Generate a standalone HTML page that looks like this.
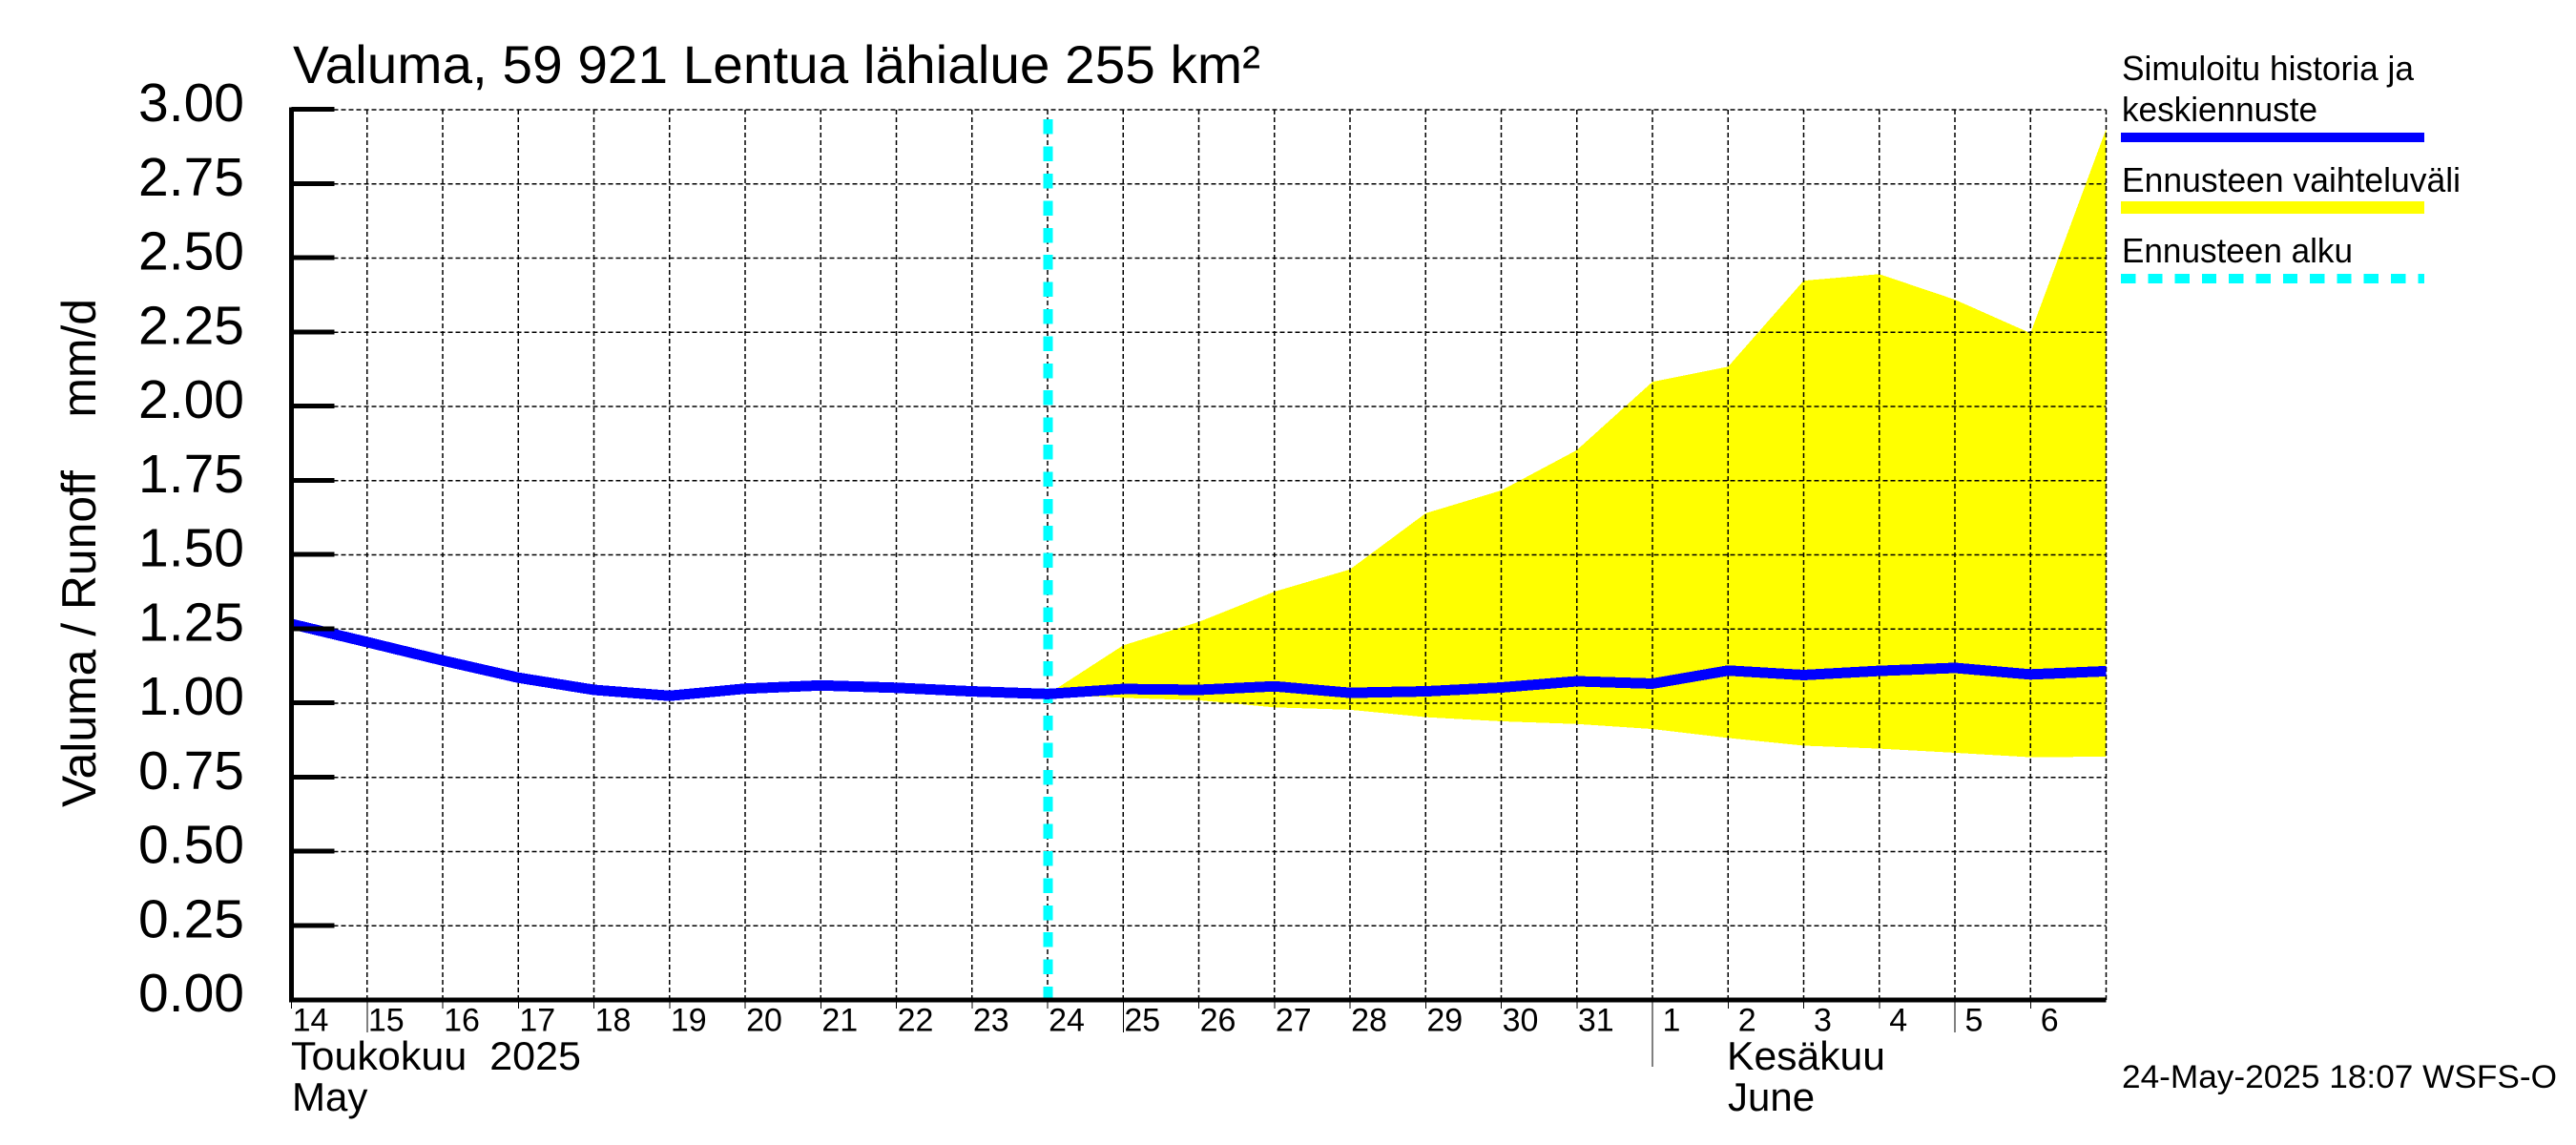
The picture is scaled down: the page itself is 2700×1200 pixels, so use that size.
<!DOCTYPE html>
<html lang="fi">
<head>
<meta charset="utf-8">
<title>Valuma, 59 921 Lentua lähialue 255 km²</title>
<style>
  html, body { margin: 0; padding: 0; background: #fff; }
  svg { display: block; }
  text { font-family: "Liberation Sans", sans-serif; fill: #000; white-space: pre; }
</style>
</head>
<body>
<svg id="chart" xmlns="http://www.w3.org/2000/svg" width="2700" height="1200" viewBox="0 0 2700 1200">
  <rect x="0" y="0" width="2700" height="1200" fill="#ffffff"/>
  <polygon id="band" fill="#ffff00" shape-rendering="crispEdges"/>
  <g id="grid"></g>
  <path id="startLine" fill="none" stroke="#00ffff" stroke-width="10" stroke-dasharray="15.5 12.9" shape-rendering="crispEdges"/>
  <polyline id="mean" fill="none" stroke="#0000ff" stroke-width="11" stroke-linejoin="round" shape-rendering="crispEdges"/>
  <g id="axes" shape-rendering="crispEdges"></g>
  <g id="labels"></g>

  <text x="307" y="87" font-size="56" textLength="1014" lengthAdjust="spacingAndGlyphs">Valuma, 59 921 Lentua lähialue 255 km²</text>
  <text transform="translate(100 846) rotate(-90)" x="0" y="0" font-size="50" textLength="533" lengthAdjust="spacingAndGlyphs">Valuma / Runoff    mm/d</text>

  <text x="305" y="1121" font-size="42" textLength="304" lengthAdjust="spacingAndGlyphs">Toukokuu  2025</text>
  <text x="306" y="1164" font-size="42">May</text>
  <text x="1810" y="1121" font-size="42" textLength="166" lengthAdjust="spacingAndGlyphs">Kesäkuu</text>
  <text x="1811" y="1164" font-size="42">June</text>

  <g>
    <text x="2224" y="84" font-size="36" textLength="306" lengthAdjust="spacingAndGlyphs">Simuloitu historia ja</text>
    <text x="2224" y="127" font-size="36" textLength="205" lengthAdjust="spacingAndGlyphs">keskiennuste</text>
    <rect x="2223" y="139" width="318" height="10" fill="#0000ff"/>
    <text x="2224" y="201" font-size="36" textLength="355" lengthAdjust="spacingAndGlyphs">Ennusteen vaihteluväli</text>
    <rect x="2223" y="211" width="318" height="13" fill="#ffff00"/>
    <text x="2224" y="275" font-size="36" textLength="242" lengthAdjust="spacingAndGlyphs">Ennusteen alku</text>
    <line x1="2223" y1="292" x2="2541" y2="292" stroke="#00ffff" stroke-width="10" stroke-dasharray="15.3 13" shape-rendering="crispEdges"/>
  </g>

  <text x="2224" y="1140" font-size="34" textLength="456" lengthAdjust="spacingAndGlyphs">24-May-2025 18:07 WSFS-O</text>
</svg>

<script>
// Chart data.
const dayLabels = ["14","15","16","17","18","19","20","21","22","23","24","25","26","27","28","29","30","31","1","2","3","4","5","6"];
const yTickValues = [0, 0.25, 0.5, 0.75, 1, 1.25, 1.5, 1.75, 2, 2.25, 2.5, 2.75, 3];
const yTickLabels = ["0.00","0.25","0.50","0.75","1.00","1.25","1.50","1.75","2.00","2.25","2.50","2.75","3.00"];
const meanRunoff = [1.267,1.206,1.144,1.086,1.045,1.025,1.049,1.06,1.052,1.04,1.031,1.048,1.045,1.057,1.035,1.04,1.053,1.074,1.066,1.11,1.095,1.109,1.119,1.097,1.108];
const forecastUpper = [1.03,1.195,1.274,1.376,1.451,1.64,1.717,1.853,2.083,2.134,2.424,2.446,2.36,2.247,2.935];
const forecastLower = [1.03,1.018,1.01,0.986,0.978,0.953,0.939,0.93,0.913,0.883,0.857,0.847,0.833,0.818,0.82];
const forecastStartIndex = 10;
const dayCount = 24;

const SVG_NS = "http://www.w3.org/2000/svg";
const plotLeft = 305.5, plotRight = 2207.5, plotBottom = 1048, plotTop = 115, yMax = 3;

function xOf(dayIndex) {
  return plotLeft + dayIndex * (plotRight - plotLeft) / dayCount;
}
function yOf(value) {
  return plotBottom - value * (plotBottom - plotTop) / yMax;
}
function make(tag, attrs, parent) {
  const el = document.createElementNS(SVG_NS, tag);
  for (const k in attrs) el.setAttribute(k, attrs[k]);
  parent.appendChild(el);
  return el;
}

const gridGroup = document.getElementById("grid");
const axesGroup = document.getElementById("axes");
const labelGroup = document.getElementById("labels");

// Forecast range band
const upperPoints = forecastUpper.map((v, i) => xOf(forecastStartIndex + i) + "," + yOf(v));
const lowerPoints = forecastLower.map((v, i) => xOf(forecastStartIndex + i) + "," + yOf(v)).reverse();
document.getElementById("band").setAttribute("points", upperPoints.concat(lowerPoints).join(" "));

// Horizontal grid, y ticks and y labels
yTickValues.forEach((v, i) => {
  if (v > 0) {
    const h = make("line", { x1: plotLeft + 44, x2: plotRight, y1: yOf(v), y2: yOf(v), stroke: "#000", "stroke-width": 1.5, "stroke-dasharray": "5 3" }, gridGroup);
    
    
    const t = make("line", { x1: plotLeft, x2: plotLeft + 45, y1: yOf(v) - 0.5, y2: yOf(v) - 0.5, stroke: "#000", "stroke-width": 5 }, axesGroup);
    
    
  }
  const lab = make("text", { x: 256, y: yOf(v) + 12, "font-size": 57, "text-anchor": "end" }, labelGroup);
  lab.textContent = yTickLabels[i];
  
  
});

// Vertical grid
for (let i = 1; i <= dayCount; i++) {
  const g = make("line", { x1: xOf(i), x2: xOf(i), y1: plotTop, y2: plotBottom, stroke: "#000", "stroke-width": 1.5, "stroke-dasharray": "5 3" }, gridGroup);
  
  
}

// Day ticks and labels
dayLabels.forEach((label, i) => {
  let tickEnd = 1057;
  if (label === "1") tickEnd = 1118;
  else if (label.endsWith("5")) tickEnd = 1082;
  const tick = make("line", { x1: xOf(i), x2: xOf(i), y1: plotBottom, y2: tickEnd, stroke: "#000", "stroke-width": 1 }, axesGroup);
  
  
  const dayText = make("text", { x: xOf(i) + 20, y: 1080.5, "font-size": 34, "text-anchor": "middle" }, labelGroup);
  dayText.textContent = label;
  
  
});

// Axis lines
const yAxisLine = make("rect", { x: 303, y: 112.5, width: 5, height: 937.5, fill: "#000" }, axesGroup);


const xAxisLine = make("rect", { x: 303, y: 1045.5, width: plotRight - 303, height: 5, fill: "#000" }, axesGroup);



// Forecast start line
const startX = xOf(forecastStartIndex) + 0.5;
document.getElementById("startLine").setAttribute("d", "M" + startX + " 125.2V" + plotBottom);

// Mean line
document.getElementById("mean").setAttribute("points", meanRunoff.map((v, i) => xOf(i) + "," + yOf(v)).join(" "));
</script>
</body>
</html>
